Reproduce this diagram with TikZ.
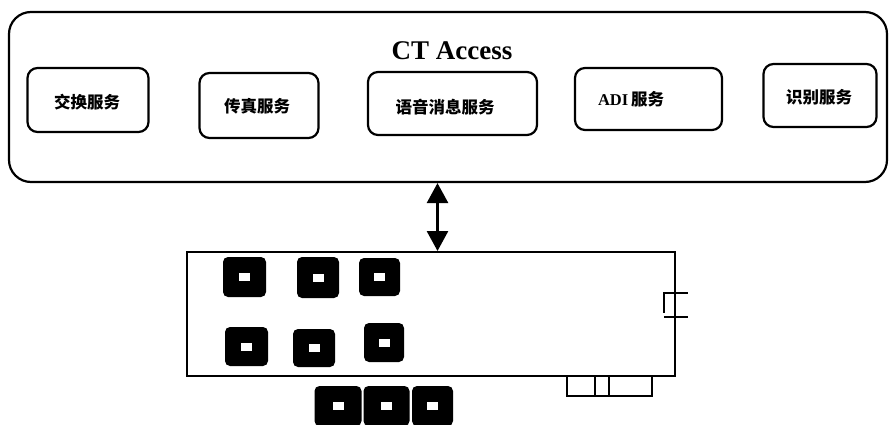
\documentclass[tikz,border=0pt]{standalone}
\usepackage{fontspec}
\setmainfont{Liberation Serif}
\newfontfamily\cjk{Noto Sans CJK SC}
\usetikzlibrary{arrows.meta}
\begin{document}
\begin{tikzpicture}[x=1pt,y=-1pt,
  frame/.style={draw, line width=2.2pt, rounded corners=22pt, inner sep=0pt},
  svc/.style={draw, line width=2.2pt, rounded corners=10pt, inner sep=0pt},
  lbl/.style={font=\cjk\bfseries\fontsize{16.5}{16.5}\selectfont, inner sep=0pt},
  board/.style={draw, line width=2pt, inner sep=0pt, minimum width=488pt, minimum height=124pt},
  chip/.style={fill=black, rounded corners=5pt, inner sep=0pt},
  pad/.style={fill=white, inner sep=0pt, minimum width=11pt, minimum height=8pt},
  link/.style={line width=2.8pt, {Triangle[width=21pt,length=20pt]}-{Triangle[width=21pt,length=20pt]}},
  part/.style={line width=2pt}]
\useasboundingbox (0,0) rectangle (891,425);

% software layer
\node[frame, minimum width=878pt, minimum height=170pt] (ct) at (448,97) {};
\node[font=\bfseries\fontsize{27}{27}\selectfont, inner sep=0pt] (title) at (452,51) {CT Access};

\node[svc, minimum width=121pt, minimum height=64pt] (s1) at (88,100) {};
\node[svc, minimum width=119pt, minimum height=65pt] (s2) at (259,105.5) {};
\node[svc, minimum width=169pt, minimum height=63pt] (s3) at (452.5,103.5) {};
\node[svc, minimum width=147pt, minimum height=62pt] (s4) at (648.5,99) {};
\node[svc, minimum width=113pt, minimum height=63pt] (s5) at (820,95.5) {};

\node[lbl] (t1) at (87,102) {交换服务};
\node[lbl] (t2) at (257,106) {传真服务};
\node[lbl] (t3) at (445,107.5) {语音消息服务};
\node[lbl] (t4) at (631,99) {{\rmfamily\bfseries ADI}\,服务};
\node[lbl] (t5) at (819,97) {识别服务};

% hardware board
\node[board] (card) at (431,314) {};
\coordinate (ax) at (437.5,0);
\draw[link] (ct.south -| ax) -- (card.north -| ax);

% edge connector on the right
\draw[part] (664,292) -- (664,313);
\draw[part] (664,293) -- (688,293);
\draw[part] (664,317) -- (688,317);

% bottom tabs
\draw[part] (567,376) -- (567,396) -- (652,396) -- (652,376);
\draw[part] (594.5,376) -- (594.5,396);
\draw[part] (608.5,376) -- (608.5,396);

% chips
\foreach \n/\x/\y/\w/\h in {c1/244.5/277/43/40, c2/318/277.5/42/41, c3/379.5/277/41/38,
                            c4/246.5/346.5/43/39, c5/314/348/42/38, c6/384/342.5/40/39,
                            c7/338/406/47/40, c8/386.5/406/46/40, c9/432.5/406/41/40} {
  \node[chip, minimum width=\w pt, minimum height=\h pt] (\n) at (\x,\y) {};
  \node[pad] (\n p) at (\n) {};
}
\end{tikzpicture}
\end{document}
